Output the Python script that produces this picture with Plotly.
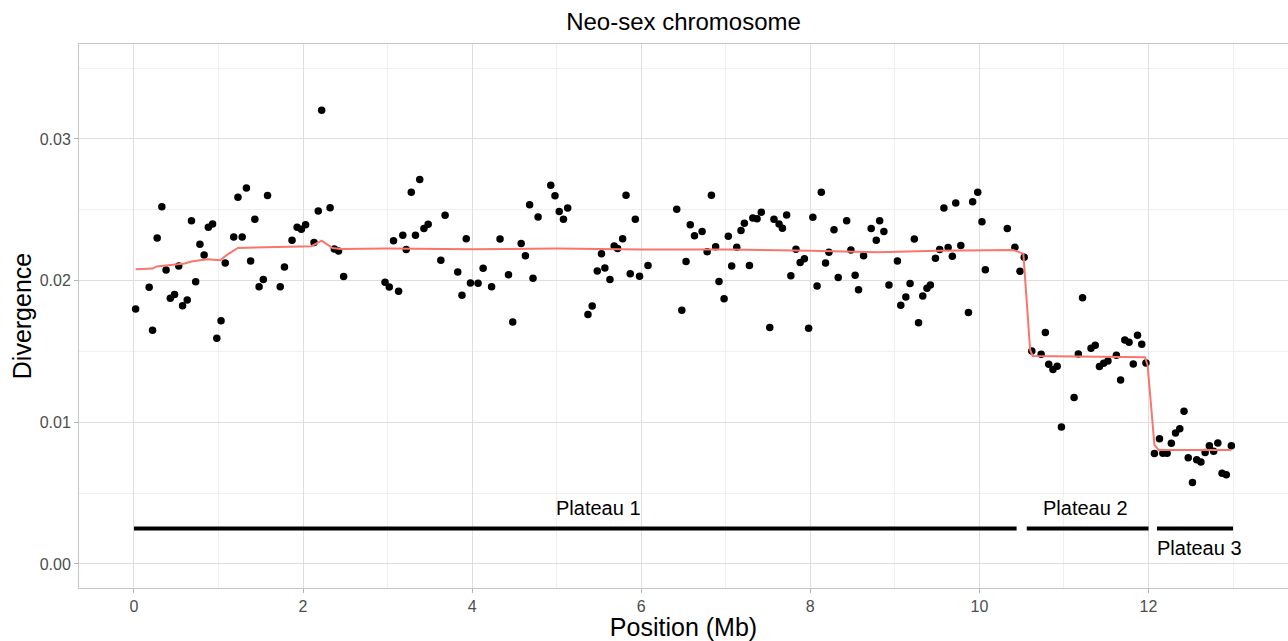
import plotly.graph_objects as go

# --- Data ---
position_mb = [
    0.02, 0.18, 0.22, 0.275, 0.33, 0.38, 0.43, 0.48, 0.53, 0.575, 0.63, 0.68, 0.73, 0.78, 0.83, 0.88, 0.93, 0.98,
    1.03, 1.08, 1.18, 1.23, 1.28, 1.33, 1.38, 1.43, 1.48, 1.53, 1.58, 1.73, 1.78, 1.87, 1.93, 1.98, 2.03, 2.13,
    2.18, 2.22, 2.32, 2.37, 2.42, 2.48,
    2.97, 3.02, 3.07, 3.13, 3.18, 3.22, 3.28, 3.33, 3.38, 3.43, 3.48, 3.63, 3.68, 3.83, 3.88, 3.93, 3.98, 4.07,
    4.13, 4.23, 4.33, 4.43, 4.48, 4.58, 4.63, 4.68, 4.72, 4.78, 4.93, 4.98, 5.03, 5.08, 5.13, 5.37, 5.42, 5.48,
    5.53, 5.57, 5.63, 5.68, 5.72, 5.78, 5.82, 5.87,
    5.93, 5.98, 6.08, 6.42, 6.48, 6.53, 6.58, 6.63, 6.72, 6.78, 6.83, 6.88, 6.92, 6.98, 7.03, 7.07, 7.13, 7.18,
    7.22, 7.28, 7.32, 7.37, 7.42, 7.52, 7.57, 7.63, 7.67, 7.72, 7.77, 7.83, 7.88, 7.93, 7.98, 8.03, 8.08, 8.13,
    8.18, 8.22, 8.28, 8.33, 8.43, 8.48, 8.53, 8.57, 8.63, 8.72, 8.78,
    8.82, 8.87, 8.93, 9.03, 9.07, 9.13, 9.18, 9.23, 9.28, 9.33, 9.38, 9.42, 9.48, 9.53, 9.58, 9.63, 9.68, 9.72,
    9.78, 9.87, 9.92, 9.98, 10.03, 10.07, 10.33, 10.42, 10.48, 10.53,
    10.62, 10.73, 10.78, 10.82, 10.87, 10.92, 10.97, 11.12, 11.17, 11.22, 11.32, 11.37, 11.42, 11.47, 11.52,
    11.62, 11.67, 11.72, 11.77, 11.82, 11.87, 11.92, 11.97,
    12.07, 12.13, 12.17, 12.22, 12.27, 12.32, 12.37, 12.42, 12.47, 12.52, 12.57, 12.62, 12.67, 12.72, 12.77,
    12.82, 12.87, 12.92, 12.98,
]
divergence = [
    0.0180, 0.01953, 0.0165, 0.0230, 0.02522, 0.02075, 0.01875, 0.01901, 0.02103, 0.01823, 0.01863, 0.02423,
    0.01991, 0.02257, 0.02181, 0.02377, 0.0240, 0.01593, 0.01717, 0.02125, 0.02308, 0.02588, 0.02308, 0.02654,
    0.02139, 0.02433, 0.01957, 0.02007, 0.0260, 0.01957, 0.02096, 0.02285, 0.02377, 0.02363, 0.02395, 0.02268,
    0.02492, 0.03203, 0.02515, 0.02223, 0.02209, 0.02028,
    0.01988, 0.01955, 0.02282, 0.01925, 0.0232, 0.02219, 0.02624, 0.0232, 0.02713, 0.02367, 0.02398, 0.02144,
    0.02461, 0.02061, 0.01897, 0.02296, 0.01983, 0.01981, 0.02087, 0.01957, 0.02294, 0.02042, 0.01708, 0.02261,
    0.02176, 0.02536, 0.02017, 0.02449, 0.02673, 0.02598, 0.02487, 0.02433, 0.02513, 0.0176, 0.01821, 0.02068,
    0.0219, 0.02089, 0.02007, 0.02245, 0.02226, 0.02296, 0.02602, 0.02049,
    0.02433, 0.02031, 0.02106, 0.02503, 0.01791, 0.02134, 0.02395, 0.02317, 0.02346, 0.02204, 0.02602, 0.02238,
    0.01993, 0.01871, 0.02313, 0.02103, 0.02235, 0.02353, 0.02405, 0.02106, 0.02442, 0.02437, 0.02483, 0.01668,
    0.02433, 0.0240, 0.0237, 0.02463, 0.02035, 0.02221, 0.02127, 0.02155, 0.01664, 0.02447, 0.01962, 0.02624,
    0.02125, 0.0220, 0.02358, 0.02021, 0.02423, 0.02216, 0.02038, 0.01936, 0.02176, 0.02367, 0.02285,
    0.02423, 0.02346, 0.01969, 0.02139, 0.01826, 0.01885, 0.01979, 0.02294, 0.01703, 0.01892, 0.01946, 0.01969,
    0.02158, 0.02219, 0.02513, 0.02233, 0.02172, 0.02548, 0.02247, 0.01774, 0.02557, 0.02624, 0.02416, 0.02077,
    0.02367, 0.02235, 0.02066, 0.02165,
    0.01503, 0.0148, 0.01633, 0.0141, 0.01372, 0.01395, 0.00967, 0.01174, 0.01482, 0.01878, 0.01522, 0.01544,
    0.01393, 0.01417, 0.01433, 0.01473, 0.01299, 0.01581, 0.01565, 0.01412, 0.01614, 0.01551, 0.01419,
    0.00779, 0.00884, 0.00781, 0.00781, 0.00852, 0.00925, 0.00955, 0.01078, 0.0075, 0.00574, 0.00736, 0.0072,
    0.00786, 0.00835, 0.00796, 0.00854, 0.0064, 0.0063, 0.00835,
]

# smoothed trend line
trend_x = [0.02, 0.22, 0.27, 0.6, 0.68, 0.87, 1.02, 1.1, 1.23, 2.1, 2.22, 2.35, 2.45, 3.0, 4.0, 5.0, 6.0,
           7.0, 8.0, 8.8, 9.5, 10.4, 10.52, 10.60, 10.63, 11.96, 11.99, 12.07, 12.12, 12.98]
trend_y = [0.0208, 0.02085, 0.0210, 0.0212, 0.02134, 0.0215, 0.02144, 0.02181, 0.0223, 0.02243, 0.02282,
           0.0223, 0.02223, 0.02226, 0.02222, 0.02226, 0.0222, 0.0222, 0.0221, 0.0220, 0.0221, 0.02216,
           0.0219, 0.0151, 0.01468, 0.01459, 0.0140, 0.0084, 0.00805, 0.00805]

# plateau segments and labels
plateau_names = ["Plateau 1", "Plateau 2", "Plateau 3"]
plateau_start = [0.0, 10.56, 12.1]
plateau_end = [10.44, 12.0, 13.0]
plateau_level = 0.0025
label_x = [5.5, 11.26, 12.6]
label_y = [0.00395, 0.00395, 0.00113]

FONT = "Liberation Sans, Arial, Helvetica, sans-serif"

fig = go.Figure()
for s, e in zip(plateau_start, plateau_end):
    fig.add_trace(go.Scatter(x=[s, e], y=[plateau_level, plateau_level], mode="lines",
                             line=dict(color="black", width=4), showlegend=False, hoverinfo="skip"))
fig.add_trace(go.Scatter(x=position_mb, y=divergence, mode="markers",
                         marker=dict(color="black", size=7.5), showlegend=False))
fig.add_trace(go.Scatter(x=trend_x, y=trend_y, mode="lines",
                         line=dict(color="#F8766D", width=2), showlegend=False))

for name, lx, ly in zip(plateau_names, label_x, label_y):
    fig.add_annotation(x=lx, y=ly, text=name, showarrow=False, xanchor="center", yanchor="middle",
                       font=dict(family=FONT, size=20, color="black"))

axis_common = dict(
    automargin=False,
    showgrid=True, gridcolor="#dedede", gridwidth=1,
    zeroline=False, showline=True, mirror=True, linecolor="#c4c4c4", linewidth=1,
    ticks="outside", ticklen=4, tickcolor="#b3b3b3",
    tickfont=dict(family=FONT, size=16, color="#4d4d4d"),
)

fig.update_layout(
    width=1288, height=641,
    margin=dict(l=79, r=0, t=44, b=53, autoexpand=False),
    paper_bgcolor="white", plot_bgcolor="white",
    font=dict(family=FONT),
    title=dict(text="Neo-sex chromosome", x=0.5, xref="paper", xanchor="center",
               y=1 - 22 / 641, yref="container", yanchor="middle",
               font=dict(family=FONT, size=24, color="black")),
    xaxis=dict(range=[-0.65, 13.65], tickvals=[0, 2, 4, 6, 8, 10, 12],
               minor=dict(dtick=1, tick0=0, showgrid=True, gridcolor="#efefef", ticks=""),
               title=dict(text="Position (Mb)", standoff=6,
                          font=dict(family=FONT, size=25, color="black")),
               **axis_common),
    yaxis=dict(range=[-0.0017, 0.0367], tickvals=[0, 0.01, 0.02, 0.03], tickformat=".2f",
               minor=dict(dtick=0.005, tick0=0, showgrid=True, gridcolor="#efefef", ticks=""),
               title=dict(text="Divergence", standoff=0,
                          font=dict(family=FONT, size=25, color="black")),
               **axis_common),
)

fig.write_html("out.html",
               config={"displayModeBar": False},
               post_script="document.body.style.margin='0px';document.body.style.overflow='hidden';")
